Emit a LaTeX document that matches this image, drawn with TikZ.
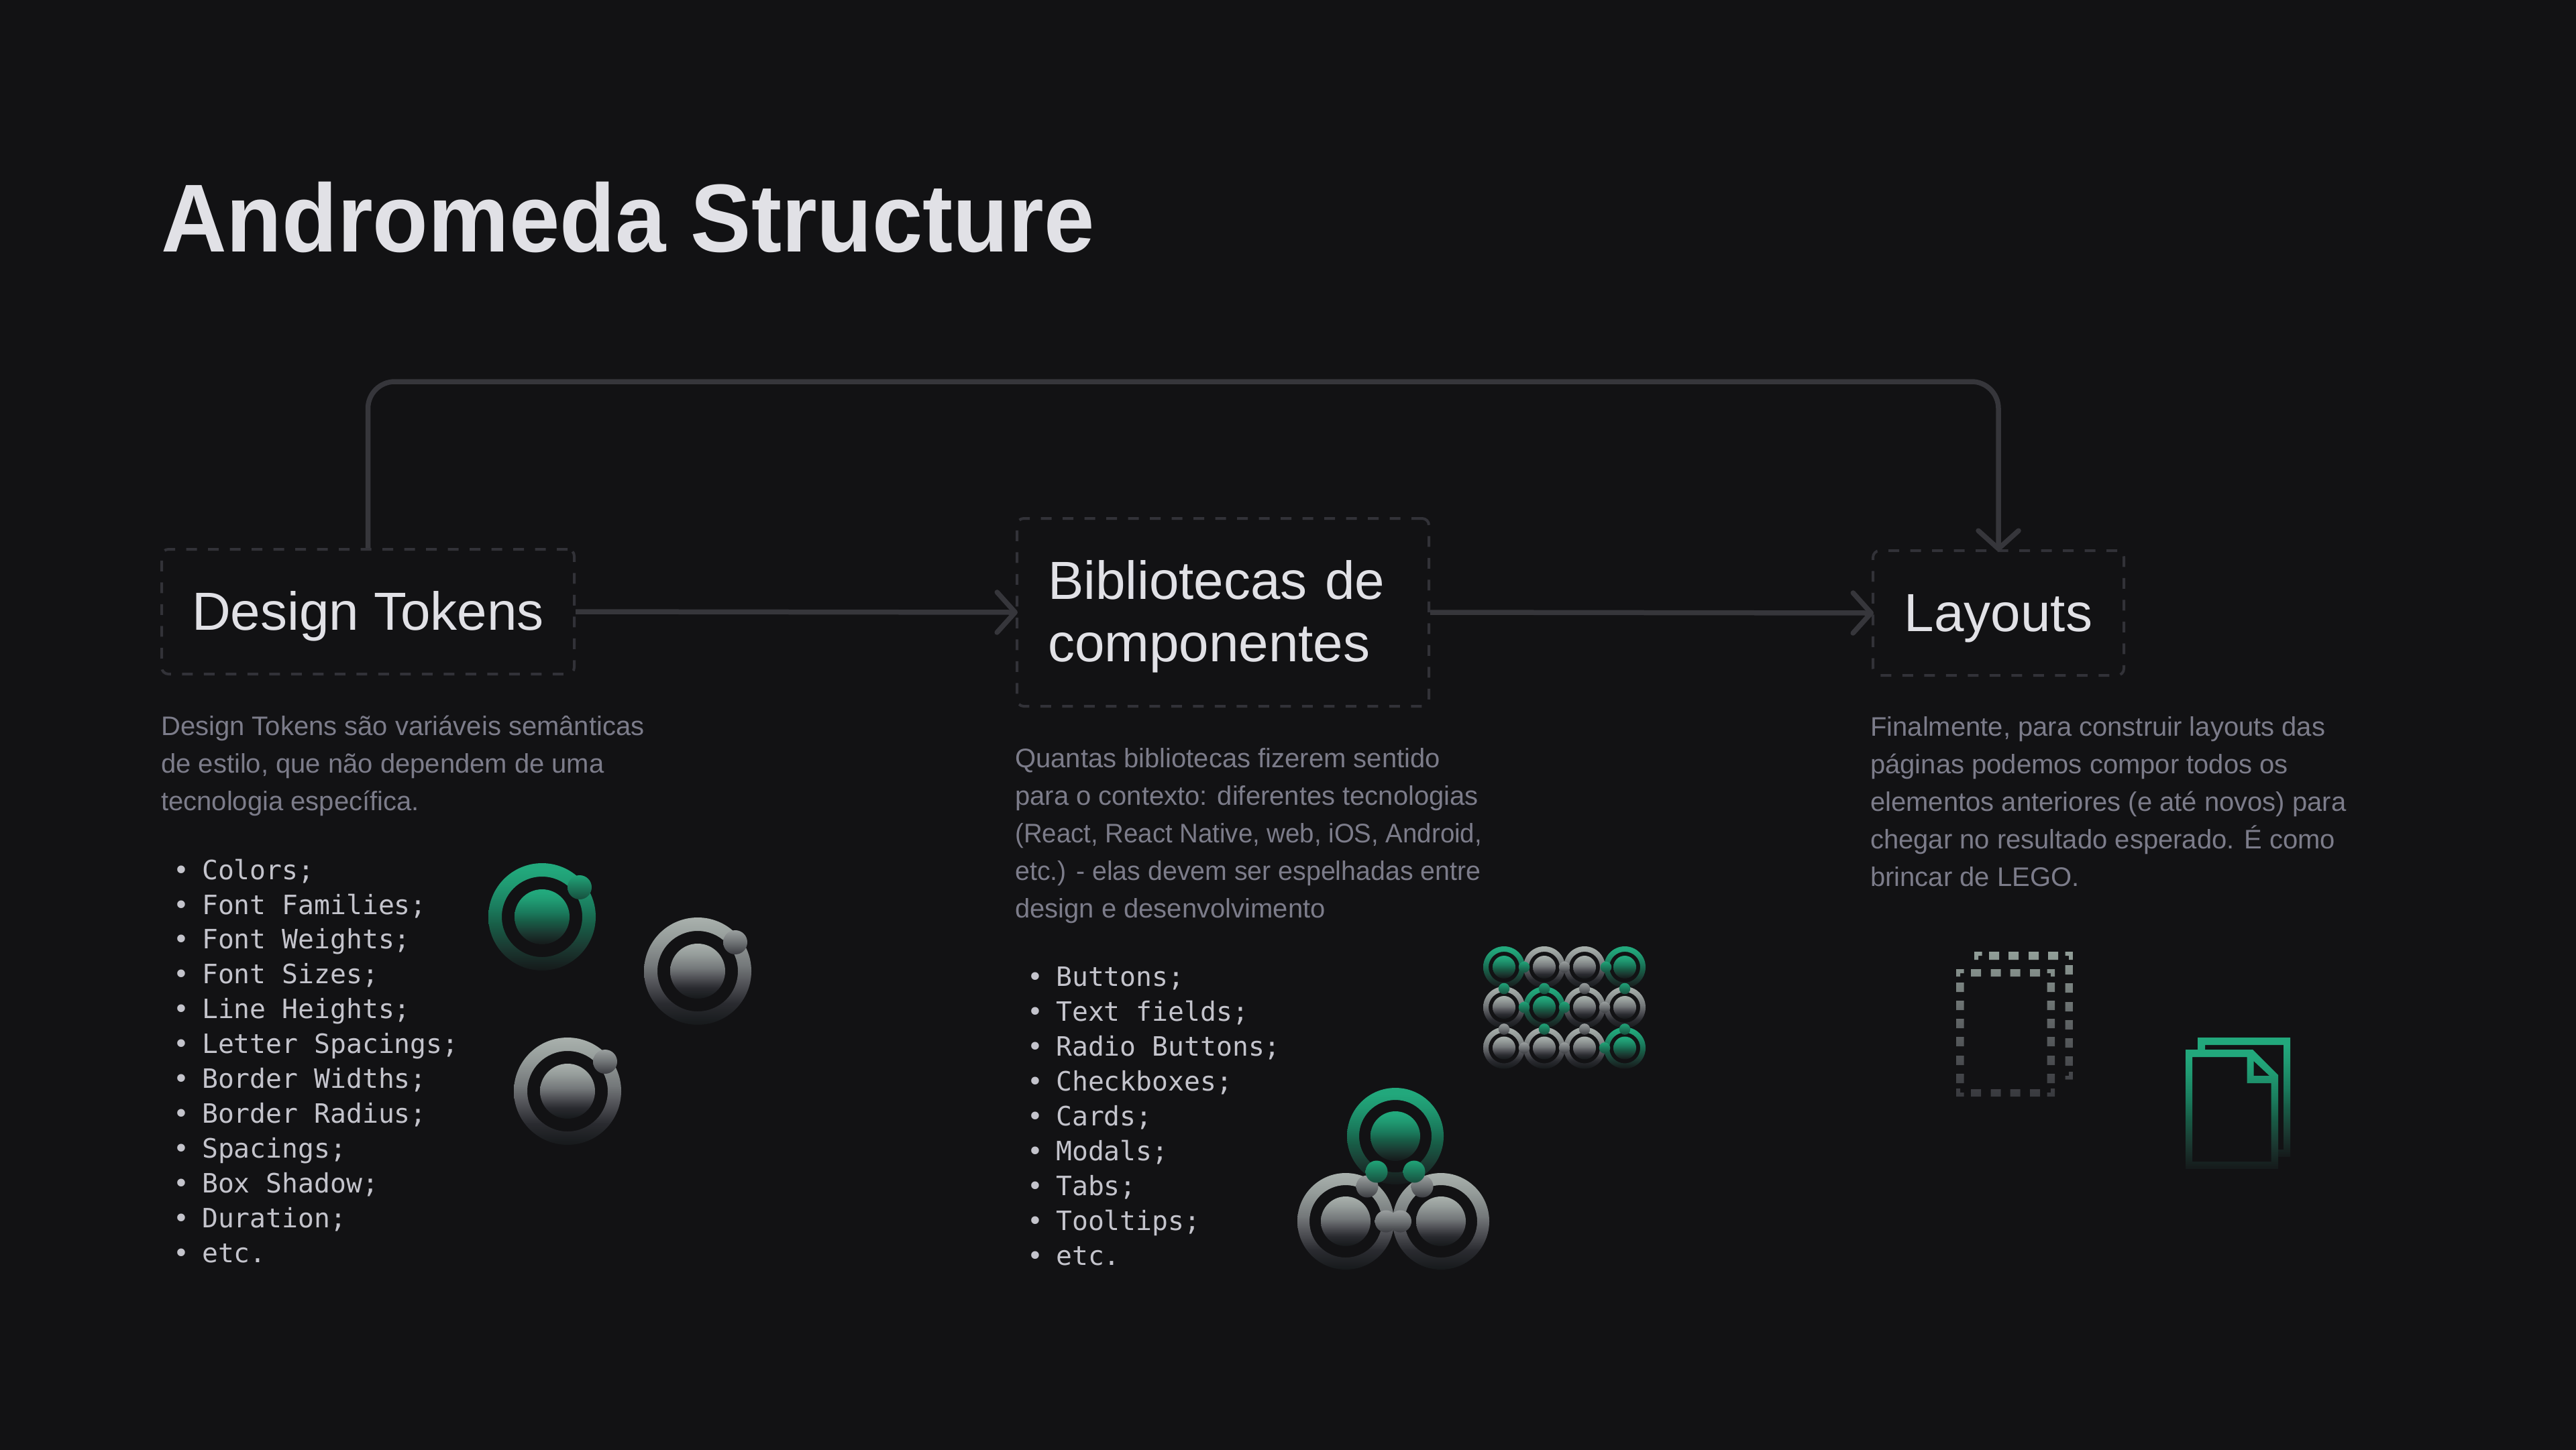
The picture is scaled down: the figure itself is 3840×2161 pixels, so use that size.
\documentclass[tikz,border=0pt]{standalone}
\usepackage{fontspec}
\usepackage{graphicx}
\setmainfont{Liberation Sans}
\newfontfamily\titlef[FakeStretch=0.94]{Liberation Sans}
\newfontfamily\monof{DejaVu Sans Mono}
\usetikzlibrary{arrows.meta,calc}
\definecolor{bg}{HTML}{121214}
\definecolor{linec}{HTML}{36363B}
\definecolor{dashc}{HTML}{323238}
\definecolor{titlec}{HTML}{E1E1E6}
\definecolor{descc}{HTML}{7C7C8A}
\definecolor{listc}{HTML}{C4C4CC}
\definecolor{ga}{HTML}{22A87C}\definecolor{gb}{HTML}{209A72}\definecolor{gc}{HTML}{1A7A5C}\definecolor{gd}{HTML}{185C46}\definecolor{ge}{HTML}{1B3A32}\definecolor{gf}{HTML}{15191A}
\definecolor{ka}{HTML}{A9B1AD}\definecolor{kb}{HTML}{959C9A}\definecolor{kc}{HTML}{74787A}\definecolor{kd}{HTML}{505156}\definecolor{ke}{HTML}{2A2B30}\definecolor{kf}{HTML}{16191B}
\definecolor{pa}{HTML}{20A478}\definecolor{pb}{HTML}{174F3E}
\definecolor{qa}{HTML}{9A9F9F}\definecolor{qb}{HTML}{6F7375}\definecolor{qc}{HTML}{3C3D42}
\definecolor{ia}{HTML}{919E98}\definecolor{ib}{HTML}{5E6264}\definecolor{ic}{HTML}{38393E}
\pgfdeclareverticalshading{grG}{100bp}{color(0bp)=(gf); color(25bp)=(gf); color(36bp)=(ge); color(46bp)=(gd); color(54bp)=(gc); color(65bp)=(gb); color(72bp)=(ga); color(100bp)=(ga)}
\pgfdeclareverticalshading{grK}{100bp}{color(0bp)=(kf); color(25bp)=(kf); color(35bp)=(ke); color(44bp)=(kd); color(52.5bp)=(kc); color(65bp)=(kb); color(75bp)=(ka); color(100bp)=(ka)}
\pgfdeclareverticalshading{ballG}{100bp}{color(0bp)=(pb); color(25bp)=(pb); color(75bp)=(pa); color(100bp)=(pa)}
\pgfdeclareverticalshading{ballK}{100bp}{color(0bp)=(qc); color(25bp)=(qc); color(50bp)=(qb); color(75bp)=(qa); color(100bp)=(qa)}
\pgfdeclareverticalshading{grI}{100bp}{color(0bp)=(ic); color(25bp)=(ic); color(50bp)=(ib); color(75bp)=(ia); color(100bp)=(ia)}
% centre x, y, outer radius, inner radius, disc radius, G or K
\newcommand\atom[6]{%
  \path[shading=gr#6,even odd rule] (#1,#2) circle[radius=#3] (#1,#2) circle[radius=#4];
  \path[shading=gr#6] (#1,#2) circle[radius=#5];}
\newcommand\ball[4]{\path[shading=ball#4] (#1,#2) circle[radius=#3];}
\newcommand\li[1]{\makebox[61pt][c]{•}#1}
\tikzset{
  conn/.style={draw=linec,line width=7.5pt},
  tip/.style={-{Straight Barb[length=27pt,width=60pt,round,line width=7.5pt]},shorten >=-3pt},
  stepbox/.style={draw=dashc,line width=4pt,dash pattern=on 16pt off 16.5pt,rounded corners=10pt,text=titlec,inner sep=0pt,font=\fontsize{80}{93}\selectfont},
  desc/.style={anchor=base west,inner sep=0pt,align=left,text=descc,font=\fontsize{40}{56}\selectfont},
  lst/.style={anchor=base west,inner sep=0pt,align=left,text=listc,font=\monof\fontsize{39.7}{51.9}\selectfont},
}
\begin{document}
\begin{tikzpicture}[x=1pt,y=-1pt]
\useasboundingbox (0,0) rectangle (3840,2161);
\fill[bg] (-5,-5) rectangle (3845,2166);
\node[anchor=base west,inner sep=0pt,text=titlec,font=\titlef\fontsize{144}{144}\selectfont\bfseries] (title) at (240,375) {Andromeda Structure};
\node[stepbox,minimum width=615pt,minimum height=186pt,text height=66pt,text depth=12pt] (b1) at (548.5,912) {Design Tokens};
\node[stepbox,minimum width=614pt,minimum height=280pt,text width=522pt,align=left] (b2) at (1823,913) {\rule{0pt}{70pt}Bibliotecas de\\componentes};
\node[stepbox,minimum width=374pt,minimum height=186pt,text height=66pt,text depth=12pt] (b3) at (2979,914) {Layouts};
\coordinate (top) at (0,569);
\draw[conn,tip] (b1.east) -- (b2.west);
\draw[conn,tip] (b2.east) -- (b3.west);
\draw[conn,tip,rounded corners=40pt] (b1.north) -- (b1.north |- top) -- (b3.north |- top) -- (b3.north);
\node[desc] (d1) at (240,1208) {Design Tokens são variáveis semânticas\\de estilo, que não dependem de uma\\tecnologia específica.};
\node[desc] (d2) at (1513,1368) {Quantas bibliotecas fizerem sentido\\para o contexto: diferentes tecnologias\\\scalebox{0.96}[1]{(React, React Native, web, iOS, Android,}\\\scalebox{0.983}[1]{etc.) - elas devem ser espelhadas entre}\\design e desenvolvimento};
\node[desc] (d3) at (2788,1321) {Finalmente, para construir layouts das\\páginas podemos compor todos os\\elementos anteriores (e até novos) para\\chegar no resultado esperado. É como\\brincar de LEGO.};
\node[lst] (l1) at (240,1882) {\li{Colors;}\\\li{Font Families;}\\\li{Font Weights;}\\\li{Font Sizes;}\\\li{Line Heights;}\\\li{Letter Spacings;}\\\li{Border Widths;}\\\li{Border Radius;}\\\li{Spacings;}\\\li{Box Shadow;}\\\li{Duration;}\\\li{etc.}};
\node[lst] (l2) at (1513,1886) {\li{Buttons;}\\\li{Text fields;}\\\li{Radio Buttons;}\\\li{Checkboxes;}\\\li{Cards;}\\\li{Modals;}\\\li{Tabs;}\\\li{Tooltips;}\\\li{etc.}};
% three atoms
\atom{808}{1367}{80}{60}{41}{G}\ball{864}{1323}{18}{G}
\atom{1040}{1448}{80}{60}{41}{K}\ball{1096}{1405}{18}{K}
\atom{846}{1627}{80}{60}{41}{K}\ball{902}{1583}{18}{K}
% trio
\atom{2006}{1821}{72}{54}{37}{K}
\atom{2148}{1821}{72}{54}{37}{K}
\atom{2080}{1694}{72}{54}{37}{G}
\ball{2038}{1769}{16.5}{K}\ball{2120}{1769}{16.5}{K}
\ball{2052}{1747}{16.5}{G}\ball{2108}{1747}{16.5}{G}
\ball{2066}{1821}{16.5}{K}\ball{2087.5}{1821}{16.5}{K}
% matrix
\foreach \x/\y/\c in {2242/1442/G,2302/1442/K,2362/1442/K,2422/1442/G,2242/1502/K,2302/1502/G,2362/1502/K,2422/1502/K,2242/1562.5/K,2302/1562.5/K,2362/1562.5/K,2422/1562.5/G}
  {\atom{\x}{\y}{31}{23}{17}{\c}}
\foreach \x/\y/\c in {2272/1442/G,2332/1442/K,2394/1442/G,2242/1474/G,2302/1474/G,2362/1474/K,2422/1474/G,2272/1502/G,2332/1502/G,2392/1502/K,2242/1534.5/K,2302/1534.5/G,2362/1534.5/K,2422/1534.5/G,2272/1562.5/K,2332/1562.5/K,2392/1562.5/G}
  {\ball{\x}{\y}{8.3}{\c}}
% dashed layout icon
\path[shading=grI]
  \foreach \a in {2938,2967.5,2996.5,3026} {(\a,1445) rectangle +(15,11)}
  \foreach \a in {2938,2967.5,2996.5,3026} {(\a,1624) rectangle +(15,11)}
  \foreach \a in {1465,1492,1519,1546,1574,1601} {(2916,\a) rectangle +(11.5,14) (3051.5,\a) rectangle +(11.5,14)}
  \foreach \a in {2965,2994,3024,3053} {(\a,1419) rectangle +(15,12)}
  \foreach \a in {1439,1466,1494,1521,1548,1575} {(3078.5,\a) rectangle +(11.5,14)}
  (2916,1445) -- (2927.5,1445) -- (2927.5,1451) -- (2922,1451) -- (2922,1456) -- (2916,1456) -- cycle
  (3051.5,1445) -- (3063,1445) -- (3063,1456) -- (3057,1456) -- (3057,1451) -- (3051.5,1451) -- cycle
  (2916,1623) -- (2922,1623) -- (2922,1629) -- (2927.5,1629) -- (2927.5,1635) -- (2916,1635) -- cycle
  (3057,1623) -- (3063,1623) -- (3063,1635) -- (3051.5,1635) -- (3051.5,1629) -- (3057,1629) -- cycle
  (2943,1419) -- (2954.5,1419) -- (2954.5,1425) -- (2949,1425) -- (2949,1431) -- (2943,1431) -- cycle
  (3078.5,1419) -- (3090,1419) -- (3090,1431) -- (3084,1431) -- (3084,1425) -- (3078.5,1425) -- cycle
  (3084,1598) -- (3090,1598) -- (3090,1609.5) -- (3078.5,1609.5) -- (3078.5,1604) -- (3084,1604) -- cycle;
% document icon
\path[shading=grG] (3276,1547) -- (3414,1547) -- (3414,1725) -- (3396,1725) -- (3396,1714) -- (3404,1714) -- (3404,1558) -- (3287,1558) -- (3287,1565) -- (3276,1565) -- cycle;
\path[shading=grG,even odd rule] (3258,1565) -- (3358,1565) -- (3396,1603) -- (3396,1743) -- (3258,1743) -- cycle
  (3268,1576) -- (3349.5,1576) -- (3349.5,1615) -- (3385.5,1615) -- (3385.5,1732) -- (3268,1732) -- cycle
  (3359.5,1582) -- (3383,1604) -- (3359.5,1604) -- cycle;
\end{tikzpicture}
\end{document}
